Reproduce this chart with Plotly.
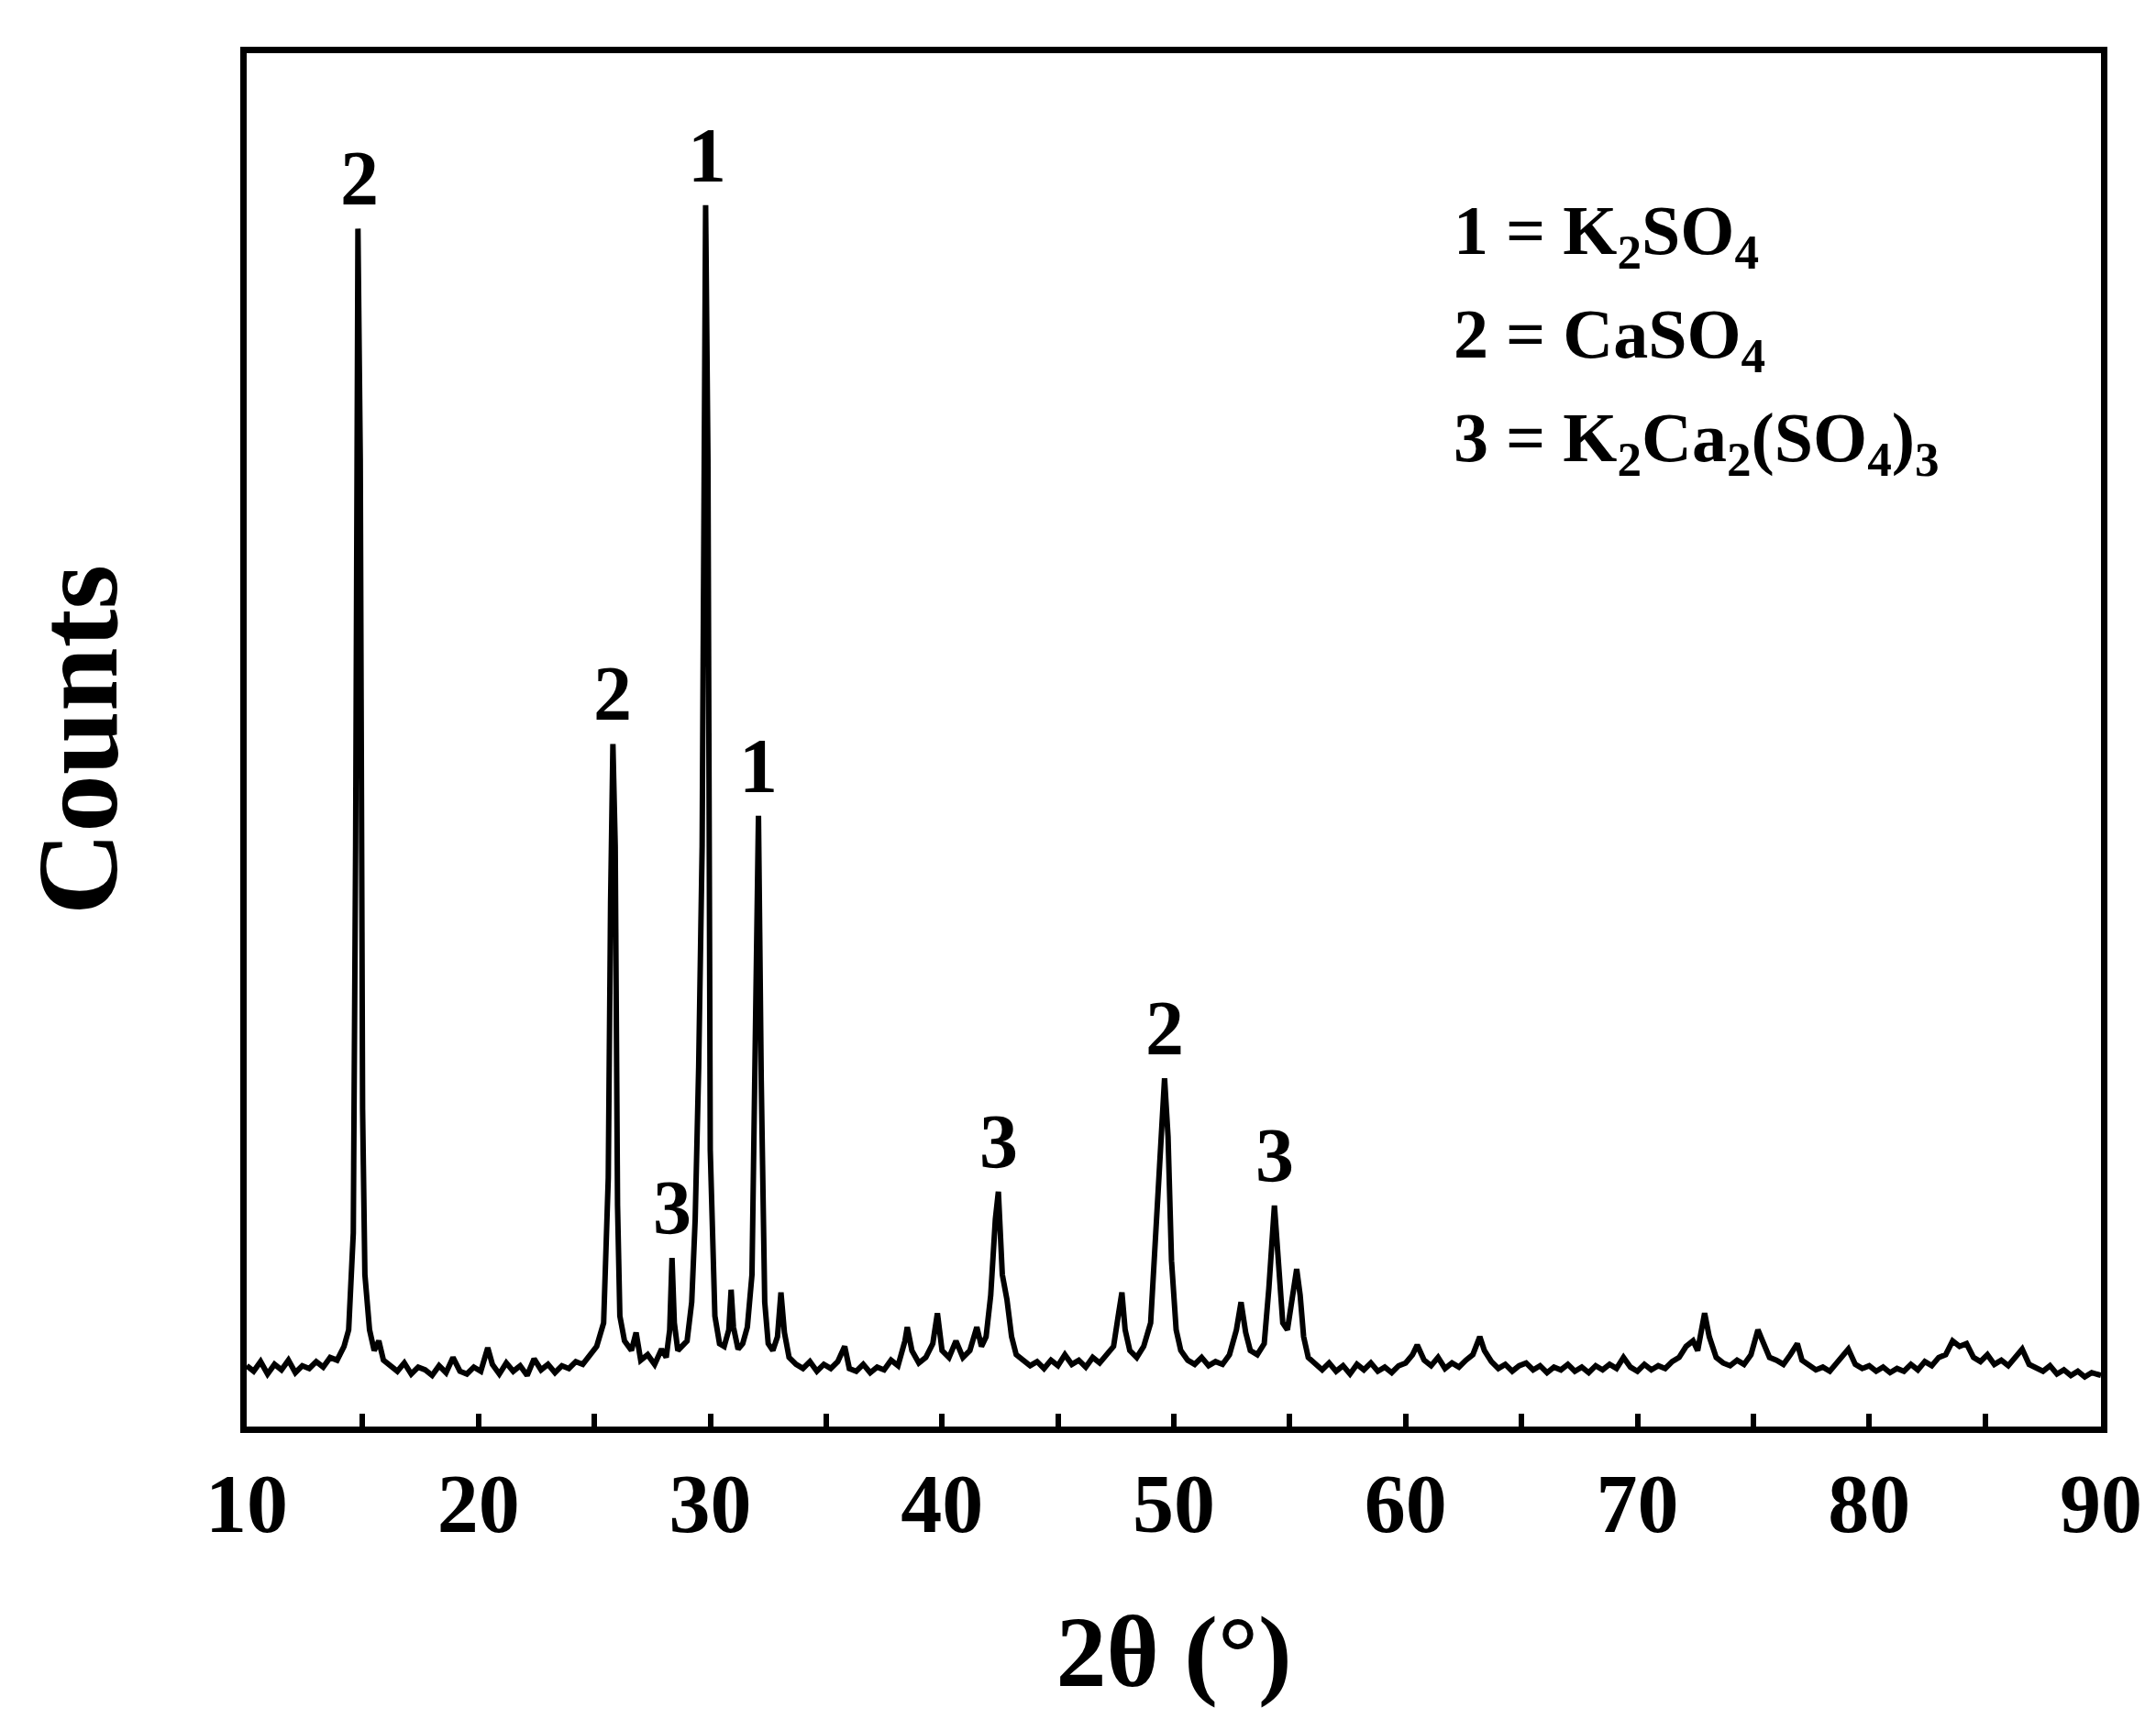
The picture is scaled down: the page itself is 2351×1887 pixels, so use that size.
import plotly.graph_objects as go

two_theta = [10.0,10.3,10.6,10.9,11.2,11.5,11.8,12.1,12.4,12.7,13.0,13.3,13.6,13.9,14.2,14.4,14.6,14.7,14.8,14.9,15.0,15.1,15.3,15.5,15.7,15.9,16.2,16.5,16.8,17.1,17.4,17.7,18.0,18.3,18.6,18.9,19.2,19.5,19.8,20.1,20.4,20.6,20.9,21.2,21.5,21.8,22.1,22.4,22.7,23.0,23.3,23.6,23.9,24.2,24.5,24.8,25.1,25.4,25.6,25.7,25.8,25.9,26.0,26.1,26.3,26.6,26.8,27.0,27.3,27.6,27.9,28.1,28.25,28.35,28.45,28.6,28.8,29.0,29.2,29.35,29.5,29.65,29.8,29.9,30.0,30.2,30.4,30.6,30.8,30.9,31.0,31.2,31.4,31.6,31.8,31.95,32.08,32.2,32.35,32.5,32.7,32.9,33.05,33.2,33.4,33.7,34.0,34.3,34.6,34.9,35.2,35.5,35.8,36.0,36.3,36.6,36.9,37.2,37.5,37.8,38.1,38.4,38.5,38.7,39.0,39.3,39.6,39.8,40.0,40.3,40.6,40.9,41.2,41.5,41.7,41.9,42.1,42.3,42.43,42.6,42.8,43.0,43.2,43.5,43.8,44.1,44.4,44.7,45.0,45.3,45.6,45.9,46.2,46.5,46.8,47.1,47.4,47.6,47.76,47.9,48.1,48.4,48.7,49.0,49.2,49.4,49.6,49.75,49.9,50.1,50.3,50.6,50.9,51.2,51.5,51.8,52.1,52.4,52.7,52.9,53.1,53.3,53.6,53.9,54.1,54.34,54.5,54.7,54.9,55.1,55.3,55.45,55.6,55.8,56.1,56.4,56.7,57.0,57.3,57.6,57.9,58.2,58.5,58.8,59.1,59.4,59.7,60.0,60.3,60.5,60.8,61.1,61.4,61.7,62.0,62.3,62.6,62.9,63.2,63.4,63.7,64.0,64.3,64.6,64.9,65.2,65.5,65.8,66.1,66.4,66.7,67.0,67.3,67.6,67.9,68.2,68.5,68.8,69.1,69.4,69.7,70.0,70.3,70.6,70.9,71.2,71.5,71.8,72.1,72.4,72.6,72.9,73.1,73.4,73.7,74.0,74.3,74.6,74.9,75.2,75.4,75.7,76.0,76.3,76.6,76.9,77.1,77.4,77.7,78.0,78.3,78.6,78.9,79.1,79.4,79.7,80.0,80.3,80.6,80.9,81.2,81.5,81.8,82.1,82.4,82.7,83.0,83.3,83.6,83.9,84.2,84.5,84.8,85.1,85.4,85.7,86.0,86.3,86.6,86.9,87.2,87.5,87.8,88.1,88.4,88.7,89.0,89.3,89.6,90.0]
counts = [44,40,47,38,45,41,48,39,44,42,47,43,50,48,58,70,140,420,867,700,230,110,70,55,62,48,44,40,46,38,43,41,37,44,39,50,40,38,43,40,57,45,38,46,40,44,37,49,41,45,39,44,42,47,45,52,58,75,180,380,494,420,160,80,62,55,68,48,52,45,56,50,70,122,75,55,58,62,90,150,260,420,884,700,200,80,60,58,70,99,72,56,60,72,110,300,442,250,90,60,55,65,97,68,50,45,42,47,40,45,42,47,58,42,40,45,39,43,41,48,44,62,72,55,46,50,60,82,55,50,62,50,55,72,58,65,95,150,170,110,92,65,52,48,44,47,42,48,44,52,45,48,43,50,46,52,58,80,97,70,55,50,58,75,130,200,252,210,120,70,55,48,45,50,44,47,45,52,70,90,68,55,52,60,100,160,120,75,70,95,114,95,65,50,45,41,46,40,44,38,45,41,46,40,43,39,44,46,52,59,48,44,50,42,46,43,48,52,65,55,47,42,45,40,44,46,41,44,39,43,41,45,40,43,39,44,41,45,42,50,43,40,45,41,44,42,47,50,58,62,55,82,65,50,46,44,48,45,52,70,62,50,48,45,52,60,48,44,41,43,40,46,52,56,45,42,44,40,43,39,42,40,45,41,47,44,50,52,62,58,60,50,47,52,45,48,44,50,56,45,42,40,44,38,41,37,40,36,39,37]

peak_x = [14.85, 25.8, 28.35, 29.85, 32.08, 42.43, 49.6, 54.34]
peak_y = [867, 494, 122, 884, 442, 170, 252, 160]
peak_lbl = ["2", "2", "3", "1", "1", "3", "2", "3"]

legend_lines = ["1 = K<sub>2</sub>SO<sub>4</sub>", "2 = CaSO<sub>4</sub>",
                "3 = K<sub>2</sub>Ca<sub>2</sub>(SO<sub>4</sub>)<sub>3</sub>"]
legend_y = [862, 787, 712]

F = "Liberation Serif"
fig = go.Figure(go.Scatter(x=two_theta, y=counts, mode="lines",
                           line=dict(color="black", width=6), showlegend=False))

for x, y, t in zip(peak_x, peak_y, peak_lbl):
    fig.add_annotation(x=x, y=y + 4, text=f"<b>{t}</b>", showarrow=False,
                       yanchor="bottom", font=dict(family=F, size=84, color="black"))
for t, y in zip(legend_lines, legend_y):
    fig.add_annotation(x=62.0, y=y, text=f"<b>{t}</b>", showarrow=False,
                       xanchor="left", yanchor="middle",
                       font=dict(family=F, size=76, color="black"))

fig.update_layout(
    width=2351, height=1887, plot_bgcolor="white", paper_bgcolor="white",
    margin=dict(l=261, r=68, t=50, b=339),
    font=dict(family=F, color="black"),
)
fig.update_xaxes(range=[10, 90], dtick=10, ticks="inside", ticklen=14, tickwidth=6,
                 minor=dict(dtick=5, ticks="inside", ticklen=14, tickwidth=6, tickcolor="black"),
                 tickcolor="black", showgrid=False, zeroline=False,
                 showline=True, linecolor="black", linewidth=7, mirror=True,
                 tickfont=dict(family=F, size=90, color="black"),
                 title=dict(text="<b>2θ (°)</b>", font=dict(family=F, size=110), standoff=75))
fig.update_yaxes(range=[0, 994], showticklabels=False, ticks="", showgrid=False,
                 zeroline=False, showline=True, linecolor="black", linewidth=7, mirror=True,
                 title=dict(text="<b>Counts</b>", font=dict(family=F, size=125), standoff=95))
fig.update_xaxes(tickprefix="<b>", ticksuffix="</b>")
fig.write_html("out.html")
